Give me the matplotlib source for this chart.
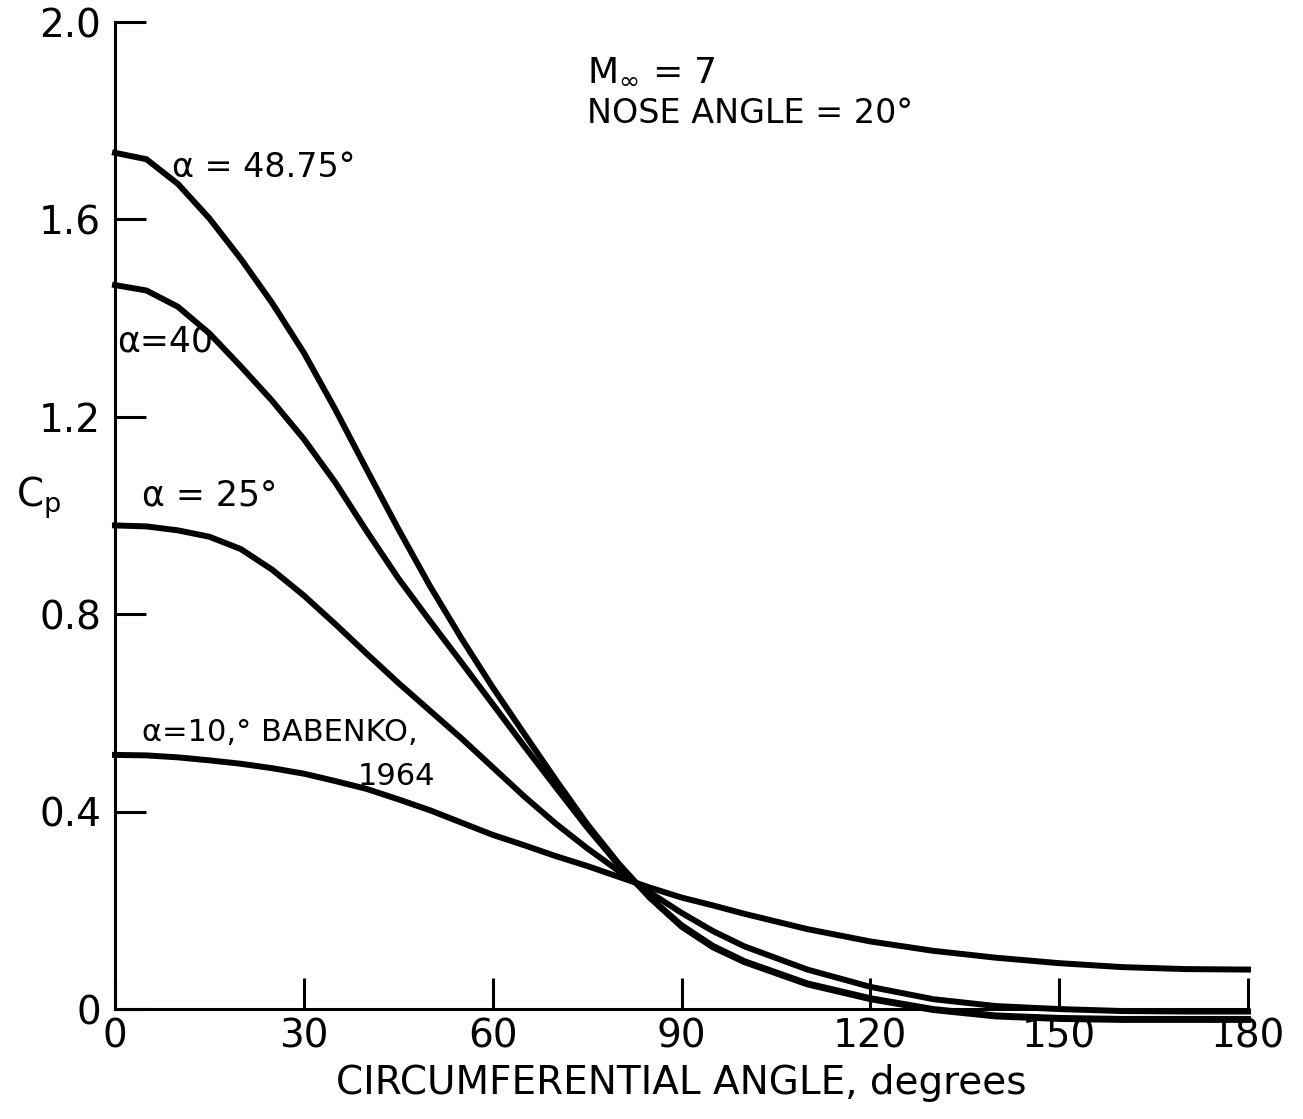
import numpy as np
import matplotlib.pyplot as plt

plt.rcParams['font.family'] = ['DejaVu Sans']
plt.rcParams['mathtext.fontset'] = 'dejavusans'

# circumferential angle, degrees
angle = [0, 5, 10, 15, 20, 25, 30, 35, 40, 45, 50, 55, 60, 65, 70, 75, 80,
         85, 90, 95, 100, 110, 120, 130, 140, 150, 160, 170, 180]

# pressure coefficient
cp_a4875 = [1.735, 1.722, 1.672, 1.602, 1.52, 1.43, 1.33, 1.215, 1.093, 0.973,
            0.858, 0.752, 0.652, 0.558, 0.465, 0.375, 0.295, 0.225, 0.167,
            0.125, 0.095, 0.05, 0.02, -0.002, -0.015, -0.02, -0.022, -0.022,
            -0.022]
cp_a40 = [1.467, 1.456, 1.423, 1.369, 1.302, 1.232, 1.155, 1.067, 0.968, 0.873,
          0.787, 0.703, 0.618, 0.533, 0.45, 0.368, 0.292, 0.226, 0.17, 0.128,
          0.097, 0.052, 0.022, 0.0, -0.013, -0.018, -0.02, -0.02, -0.02]
cp_a25 = [0.98, 0.978, 0.97, 0.957, 0.932, 0.89, 0.838, 0.78, 0.72, 0.661,
          0.605, 0.549, 0.49, 0.431, 0.376, 0.326, 0.28, 0.236, 0.195, 0.158,
          0.127, 0.08, 0.045, 0.02, 0.006, 0.0, -0.004, -0.005, -0.005]
cp_a10 = [0.515, 0.514, 0.51, 0.504, 0.497, 0.488, 0.477, 0.462, 0.446, 0.425,
          0.403, 0.378, 0.353, 0.332, 0.31, 0.29, 0.268, 0.246, 0.226, 0.21,
          0.193, 0.162, 0.137, 0.118, 0.104, 0.093, 0.085, 0.081, 0.08]

xticks = [0, 30, 60, 90, 120, 150, 180]
yticks = [0, 0.4, 0.8, 1.2, 1.6, 2.0]
ytick_labels = ['0', '0.4', '0.8', '1.2', '1.6', '2.0']

fig = plt.figure(figsize=(13.03, 11.19), dpi=100)
ax = fig.add_axes([115 / 1303, 0.0762, 1133 / 1303, 0.9041])

for cp in (cp_a4875, cp_a40, cp_a25, cp_a10):
    ax.plot(angle, cp, color='black', lw=4.3, solid_joinstyle='round',
            clip_on=False)

ax.set_xlim(0, 180)
ax.set_ylim(-0.05, 2.0)
ax.spines['top'].set_visible(False)
ax.spines['right'].set_visible(False)
ax.spines['bottom'].set_position(('data', 0))
ax.spines['bottom'].set_bounds(0, 180)
ax.spines['left'].set_bounds(0, 2.0)
for s in ('left', 'bottom'):
    ax.spines[s].set_linewidth(2.2)

ax.set_xticks(xticks)
ax.set_xticklabels([str(t) for t in xticks])
ax.set_yticks(yticks)
ax.set_yticklabels(ytick_labels)
ax.tick_params(axis='both', direction='in', length=22, width=2.2,
               labelsize=28)
ax.tick_params(axis='y', pad=10)
ax.tick_params(axis='x', pad=6)

ax.set_xlabel('CIRCUMFERENTIAL ANGLE, degrees', fontsize=28, labelpad=6)
fig.text(0.012, 0.555, r'C$_\mathregular{p}$', fontsize=28, va='center')

ax.text(9.0, 1.705, 'α = 48.75°', fontsize=24, va='center')
ax.text(0.4, 1.352, 'α=40', fontsize=25, va='center')
ax.text(4.3, 1.04, 'α = 25°', fontsize=25, va='center')
ax.text(4.3, 0.56, 'α=10,° BABENKO,', fontsize=22, va='center')
ax.text(38.5, 0.472, '1964', fontsize=22, va='center')
ax.text(75, 1.90, r'M$_\infty$ = 7', fontsize=26, va='center')
ax.text(75, 1.815, 'NOSE ANGLE = 20°', fontsize=24, va='center')

fig.savefig('out.png', dpi=100, facecolor='white')
